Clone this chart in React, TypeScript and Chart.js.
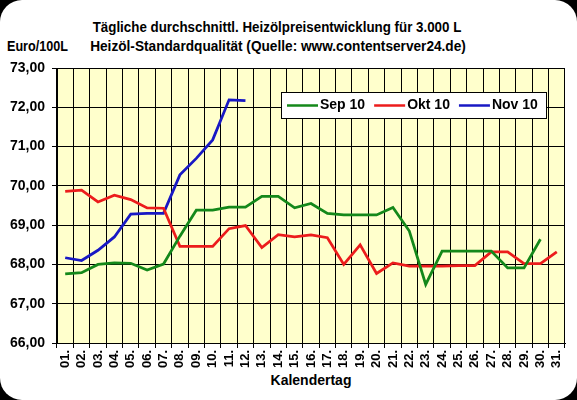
import React, { useEffect, useRef } from "react";
import { Chart, registerables } from "chart.js";

Chart.register(...registerables);

const days = [
  "01.", "02.", "03.", "04.", "05.", "06.", "07.", "08.", "09.", "10.",
  "11.", "12.", "13.", "14.", "15.", "16.", "17.", "18.", "19.", "20.",
  "21.", "22.", "23.", "24.", "25.", "26.", "27.", "28.", "29.", "30.", "31.",
];

const sep10 = [
  67.76, 67.79, 68.0, 68.04, 68.03, 67.86, 68.01, 68.72, 69.38, 69.38,
  69.46, 69.46, 69.73, 69.73, 69.44, 69.55, 69.3, 69.26, 69.26, 69.26,
  69.45, 68.85, 67.49, 68.34, 68.34, 68.34, 68.34, 67.91, 67.91, 68.64, null,
];

const okt10 = [
  69.86, 69.89, 69.59, 69.76, 69.65, 69.44, 69.43, 68.46, 68.46, 68.46,
  68.91, 68.99, 68.43, 68.76, 68.7, 68.75, 68.68, 68.0, 68.5, 67.77,
  68.04, 67.96, 67.96, 67.96, 67.97, 67.97, 68.32, 68.32, 68.02, 68.02, 68.32,
];

const nov10 = [
  68.17, 68.1, 68.36, 68.7, 69.28, 69.3, 69.3, 70.28, 70.7, 71.17,
  72.19, 72.17, null, null, null, null, null, null, null, null,
  null, null, null, null, null, null, null, null, null, null, null,
];

const seriesNames = ["Sep 10", "Okt 10", "Nov 10"];
const seriesColors = ["#14881a", "#ec1c1c", "#1818c4"];
const yTicks = [66, 67, 68, 69, 70, 71, 72, 73];

const FONT = "'Liberation Sans', Arial, sans-serif";

const bgPlugin = {
  id: "plotBg",
  beforeDraw(chart: any) {
    const { ctx, chartArea } = chart;
    ctx.save();
    ctx.fillStyle = "#ffffcc";
    ctx.fillRect(chartArea.left, chartArea.top, chartArea.right - chartArea.left, chartArea.bottom - chartArea.top);
    ctx.restore();
  },
};

const legendPlugin = {
  id: "boxLegend",
  afterDraw(chart: any) {
    const { ctx } = chart;
    const boxX = 281, boxY = 92, boxW = 266, boxH = 27;
    ctx.save();
    ctx.fillStyle = "#ffffff";
    ctx.fillRect(boxX, boxY, boxW, boxH);
    ctx.strokeStyle = "#000";
    ctx.lineWidth = 1;
    ctx.strokeRect(boxX + 0.5, boxY + 0.5, boxW - 1, boxH - 1);
    ctx.font = `bold 14px ${FONT}`;
    ctx.textBaseline = "middle";
    let x = boxX + 6;
    const y = boxY + boxH / 2;
    chart.data.datasets.forEach((ds: any) => {
      ctx.strokeStyle = ds.borderColor;
      ctx.lineWidth = 2.5;
      ctx.beginPath();
      ctx.moveTo(x, y);
      ctx.lineTo(x + 31, y);
      ctx.stroke();
      ctx.fillStyle = "#000";
      ctx.fillText(ds.label, x + 33, y);
      x += 33 + ctx.measureText(ds.label).width + 9;
    });
    ctx.restore();
  },
};

export default function App() {
  const ref = useRef<HTMLCanvasElement | null>(null);

  useEffect(() => {
    if (!ref.current) return;
    const values = [sep10, okt10, nov10];
    const chart = new Chart(ref.current, {
      type: "line",
      data: {
        labels: days,
        datasets: values.map((v, i) => ({
          label: seriesNames[i],
          data: v,
          borderColor: seriesColors[i],
          backgroundColor: seriesColors[i],
          borderWidth: 2.75,
          pointRadius: 0,
          tension: 0,
          spanGaps: false,
        })),
      },
      options: {
        animation: false,
        responsive: false,
        devicePixelRatio: 1,
        layout: { padding: { top: 68, right: 12, left: 0, bottom: 0 } },
        plugins: {
          legend: { display: false },
          title: { display: false },
          tooltip: { enabled: false },
        },
        scales: {
          x: {
            offset: true,
            grid: { offset: true, color: "#000", lineWidth: 1, tickLength: 5 },
            border: { color: "#000", width: 1 },
            ticks: {
              autoSkip: false,
              minRotation: 90,
              maxRotation: 90,
              padding: 2,
              color: "#000",
              font: { family: FONT, size: 13, weight: "bold" },
            },
            afterFit: (s: any) => {
              s.height = 57;
            },
          },
          y: {
            min: yTicks[0],
            max: yTicks[yTicks.length - 1],
            afterBuildTicks: (s: any) => {
              s.ticks = yTicks.map((v) => ({ value: v }));
            },
            grid: { color: "#000", lineWidth: 1, tickLength: 5 },
            border: { color: "#000", width: 1 },
            ticks: {
              padding: 7,
              color: "#000",
              font: { family: FONT, size: 14, weight: "bold" },
              callback: (v: any) => Number(v).toFixed(2).replace(".", ","),
            },
            afterFit: (s: any) => {
              s.width = 57;
            },
          },
        },
      },
      plugins: [bgPlugin, legendPlugin],
    });
    return () => chart.destroy();
  }, []);

  const textStyle: React.CSSProperties = {
    position: "absolute",
    fontFamily: FONT,
    fontWeight: "bold",
    fontSize: 14,
    color: "#000",
    whiteSpace: "nowrap",
    lineHeight: "18px",
  };

  const titleStyle: React.CSSProperties = {
    ...textStyle,
    fontSize: 15,
    left: 0,
    width: 554,
    textAlign: "center",
    transform: "scaleX(0.89)",
    transformOrigin: "277px 50%",
  };

  return (
    <div style={{ position: "fixed", left: 0, top: 0, width: 577, height: 400, background: "#000" }}>
      <div style={{ position: "absolute", left: 0, top: 0, width: 577, height: 400, background: "#fff", borderRadius: 22, overflow: "hidden" }}>
        <div style={{ ...titleStyle, top: 18 }}>
          Tägliche durchschnittl. Heizölpreisentwicklung für 3.000 L
        </div>
        <div style={{ ...titleStyle, top: 37, width: 556, transform: "scaleX(0.91)", transformOrigin: "278px 50%" }}>
          Heizöl-Standardqualität (Quelle: www.contentserver24.de)
        </div>
        <div style={{ ...textStyle, fontSize: 15, left: 7, top: 37, transform: "scaleX(0.84)", transformOrigin: "0 50%" }}>Euro/100L</div>
        <div style={{ ...textStyle, left: 0, width: 622, top: 371, textAlign: "center" }}>Kalendertag</div>
        <canvas ref={ref} width={577} height={400} style={{ position: "absolute", left: 0, top: 0, width: 577, height: 400 }} />
      </div>
    </div>
  );
}
